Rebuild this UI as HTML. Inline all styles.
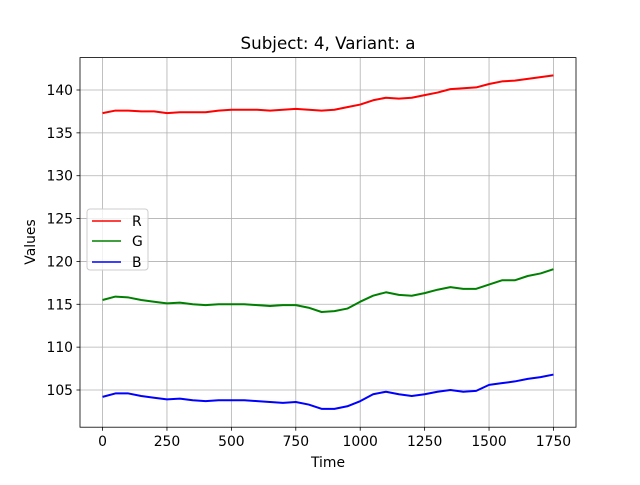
<!DOCTYPE html>
<html><head><meta charset="utf-8"><style>
body{margin:0;background:#fff}
svg text{font-family:"DejaVu Sans","Liberation Sans",sans-serif;fill:#000}
</style></head><body>
<svg id="chart" width="640" height="480" xmlns="http://www.w3.org/2000/svg">
<rect width="640" height="480" fill="#fff"/>
<text x="328" y="49" font-size="16.7" text-anchor="middle">Subject: 4, Variant: a</text>
<g id="grid"></g>
<g id="series"></g>
<rect x="80" y="57.6" width="496" height="369.6" fill="none" stroke="#000" stroke-width="0.8"/>
<g id="ticks"></g>
<text x="328" y="467" font-size="13.9" text-anchor="middle">Time</text>
<text transform="translate(35,242) rotate(-90)" font-size="13.9" text-anchor="middle">Values</text>
<g>
<rect x="87" y="209" width="61" height="61" rx="3" fill="#fff" fill-opacity="0.8" stroke="#ccc"/>
<g><line x1="92" y1="221" x2="121" y2="221" stroke="red" stroke-width="1.5"/><text x="132" y="226" font-size="13.9">R</text></g>
<g><line x1="92" y1="241" x2="121" y2="241" stroke="green" stroke-width="1.5"/><text x="132" y="246" font-size="13.9">G</text></g>
<g><line x1="92" y1="262" x2="121" y2="262" stroke="blue" stroke-width="1.5"/><text x="132" y="267" font-size="13.9">B</text></g>
</g>
</svg>
<script>
const times=[0,50,100,150,200,250,300,350,400,450,500,550,600,650,700,750,800,850,900,950,1000,1050,1100,1150,1200,1250,1300,1350,1400,1450,1500,1550,1600,1650,1700,1750];
const seriesR=[137.3,137.6,137.6,137.5,137.5,137.3,137.4,137.4,137.4,137.6,137.7,137.7,137.7,137.6,137.7,137.8,137.7,137.6,137.7,138.0,138.3,138.8,139.1,139.0,139.1,139.4,139.7,140.1,140.2,140.3,140.7,141.0,141.1,141.3,141.5,141.7];
const seriesG=[115.5,115.9,115.8,115.5,115.3,115.1,115.2,115.0,114.9,115.0,115.0,115.0,114.9,114.8,114.9,114.9,114.6,114.1,114.2,114.5,115.3,116.0,116.4,116.1,116.0,116.3,116.7,117.0,116.8,116.8,117.3,117.8,117.8,118.3,118.6,119.1];
const seriesB=[104.2,104.6,104.6,104.3,104.1,103.9,104.0,103.8,103.7,103.8,103.8,103.8,103.7,103.6,103.5,103.6,103.3,102.8,102.8,103.1,103.7,104.5,104.8,104.5,104.3,104.5,104.8,105.0,104.8,104.9,105.6,105.8,106.0,106.3,106.5,106.8];
const xTicks=[0,250,500,750,1000,1250,1500,1750];
const yTicks=[105,110,115,120,125,130,135,140];
const X0=80,X1=576,Y0=427.2,Y1=57.6,xmin=-87.5,xmax=1837.5,ymin=100.66,ymax=143.78;
const sx=v=>X0+(v-xmin)/(xmax-xmin)*(X1-X0);
const sy=v=>Y0-(v-ymin)/(ymax-ymin)*(Y0-Y1);
const NS="http://www.w3.org/2000/svg";
const grid=document.getElementById('grid'),ticks=document.getElementById('ticks'),ser=document.getElementById('series');
function mk(tag,attrs,parent){const e=document.createElementNS(NS,tag);for(const k in attrs)e.setAttribute(k,attrs[k]);parent.appendChild(e);return e;}
xTicks.forEach(t=>{const x=sx(t);
 const g=mk('line',{x1:x,x2:x,y1:Y1,y2:Y0,stroke:'#b0b0b0','stroke-width':0.8},grid);
 
 
 mk('line',{x1:x,x2:x,y1:Y0,y2:Y0+3.5,stroke:'#000','stroke-width':0.8},ticks);
 const tx=mk('text',{x:x,y:Y0+19,'font-size':13.9,'text-anchor':'middle'},ticks);tx.textContent=t;
 
 });
yTicks.forEach(t=>{const y=sy(t);
 const g=mk('line',{x1:X0,x2:X1,y1:y,y2:y,stroke:'#b0b0b0','stroke-width':0.8},grid);
 
 
 mk('line',{x1:X0-3.5,x2:X0,y1:y,y2:y,stroke:'#000','stroke-width':0.8},ticks);
 const tx=mk('text',{x:X0-7,y:y+5,'font-size':13.9,'text-anchor':'end'},ticks);tx.textContent=t;
 
 });
[[seriesR,'red','series-r'],[seriesG,'green','series-g'],[seriesB,'blue','series-b']].forEach(([d,c,n])=>{
 const p=mk('polyline',{points:d.map((v,i)=>sx(times[i])+','+sy(v)).join(' '),fill:'none',stroke:c,'stroke-width':2,'stroke-linejoin':'round'},ser);
 
 });
</script>
</body></html>
